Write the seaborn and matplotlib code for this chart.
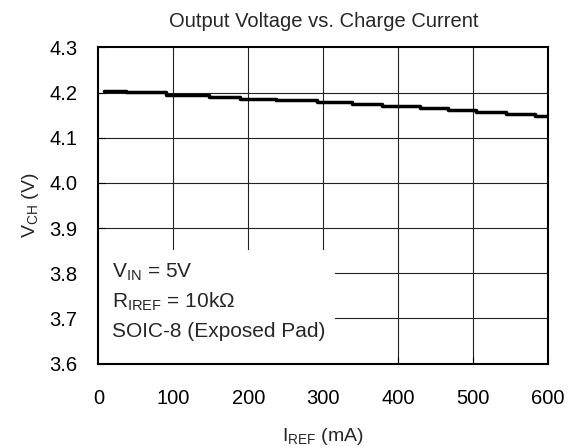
import matplotlib
matplotlib.use("Agg")
import matplotlib.pyplot as plt
from matplotlib.patches import Rectangle
import seaborn as sns
import pandas as pd

# charge current (mA) where each step of the trace starts, and its voltage (V)
i_ref = [8, 37, 90, 147, 189, 237, 292, 339, 378, 429, 466, 504, 544, 583, 600]
v_ch = [4.2035, 4.2007, 4.1957, 4.1907, 4.1864, 4.1829, 4.1786, 4.1743,
        4.1700, 4.1657, 4.1621, 4.1572, 4.1529, 4.1486, 4.1486]

x_ticks = [0, 100, 200, 300, 400, 500, 600]
y_ticks = [3.6, 3.7, 3.8, 3.9, 4.0, 4.1, 4.2, 4.3]
notes = [r"V$_{\mathrm{IN}}$ = 5V", r"R$_{\mathrm{IREF}}$ = 10k$\Omega$", "SOIC-8 (Exposed Pad)"]

sns.set_style("white")
plt.rcParams["font.family"] = ["Liberation Sans", "DejaVu Sans"]
plt.rcParams["mathtext.fontset"] = "custom"
plt.rcParams["mathtext.rm"] = "Liberation Sans"
plt.rcParams["mathtext.it"] = "Liberation Sans"
plt.rcParams["mathtext.default"] = "regular"

df = pd.DataFrame({"i": i_ref, "v": v_ch})

fig = plt.figure(figsize=(5.73, 4.48), dpi=100)
ax = fig.add_axes([0.1719, 0.1886, 0.7845, 0.7054])

# grid drawn by hand so the note box can sit above it but below the ticks
for xv in x_ticks[1:-1]:
    ax.axvline(xv, color="#222222", lw=0.8, zorder=0.5)
for yv in y_ticks[1:-1]:
    ax.axhline(yv, color="#222222", lw=0.8, zorder=0.5)

sns.lineplot(data=df, x="i", y="v", ax=ax, color="black", lw=2.5,
             drawstyle="steps-post", zorder=3)

ax.add_patch(Rectangle((0, 0), 0.526, 0.36, transform=ax.transAxes,
                       facecolor="white", edgecolor="none", zorder=1))
for k, t in enumerate(notes):
    ax.text(0.031, 0.271 - k * 0.0935, t, transform=ax.transAxes,
            fontsize=15, va="baseline", ha="left", zorder=4)

ax.set_xlim(0, 600)
ax.set_ylim(3.6, 4.3)
ax.set_xticks(x_ticks)
ax.set_yticks(y_ticks)
ax.set_yticklabels([f"{v:.1f}" for v in y_ticks])
ax.tick_params(direction="in", length=5, width=0.8, labelsize=14.5,
               left=True, bottom=True, colors="black")
ax.tick_params(axis="x", pad=18)
ax.tick_params(axis="y", pad=15)
for s in ax.spines.values():
    s.set_color("black")
    s.set_linewidth(1.5)

ax.set_xlabel(r"I$_{\mathrm{REF}}$ (mA)", fontsize=14)
ax.set_ylabel(r"V$_{\mathrm{CH}}$ (V)", fontsize=14)
ax.xaxis.set_label_coords(0.5, -0.198)
ax.yaxis.set_label_coords(-0.127, 0.5)
ax.set_title("Output Voltage vs. Charge Current", fontsize=14.5, pad=15)

fig.savefig("out.png", dpi=100)
